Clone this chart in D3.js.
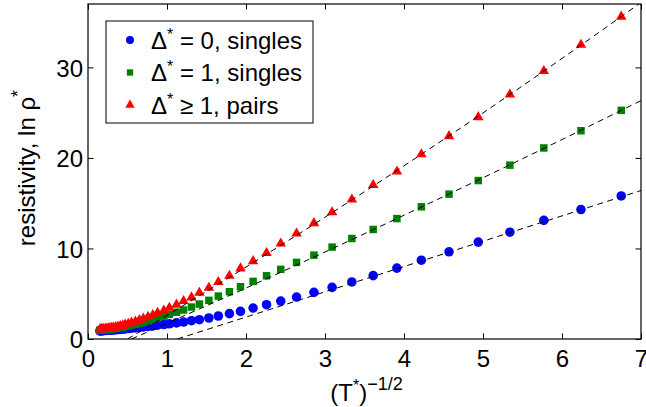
<!DOCTYPE html>
<html>
<head>
<meta charset="utf-8">
<script src="https://cdn.jsdelivr.net/npm/d3@7"></script>
<style>
  html, body { margin: 0; padding: 0; background: #fff; }
  svg { display: block; font-family: "Liberation Sans", Arial, sans-serif; }
</style>
</head>
<body>
<svg id="chart" width="646" height="407"></svg>
<script>
// (T*)^-1/2 for each temperature
const invSqrtT = [6.75, 6.24, 5.77, 5.34, 4.94, 4.57, 4.22, 3.91, 3.61, 3.34, 3.09, 2.86, 2.64, 2.44,
  2.26, 2.09, 1.93, 1.79, 1.65, 1.53, 1.41, 1.31, 1.21, 1.12, 1.03, 0.96, 0.88, 0.82, 0.76, 0.70,
  0.65, 0.60, 0.55, 0.51, 0.47, 0.44, 0.41, 0.38, 0.35, 0.32, 0.30, 0.28, 0.26, 0.24, 0.22, 0.20,
  0.19, 0.17, 0.16, 0.15];

// ln rho* : Δ* = 0, singles
const singles0 = [15.8, 14.3, 13.1, 11.8, 10.7, 9.63, 8.7, 7.83, 7.0, 6.3, 5.7, 5.15, 4.63, 4.19,
  3.79, 3.42, 3.05, 2.8, 2.54, 2.32, 2.13, 2.02, 1.87, 1.78, 1.68, 1.6, 1.52, 1.45, 1.39, 1.33,
  1.28, 1.23, 1.19, 1.15, 1.12, 1.09, 1.06, 1.04, 1.02, 1.0, 0.98, 0.97, 0.96, 0.95, 0.94, 0.93,
  0.92, 0.91, 0.9, 0.9];

// ln rho* : Δ* = 1, singles
const singles1 = [25.25, 23.0, 21.1, 19.2, 17.5, 16.0, 14.6, 13.3, 12.1, 11.1, 10.15, 9.26, 8.46, 7.69,
  6.98, 6.36, 5.77, 5.22, 4.74, 4.27, 3.86, 3.53, 3.2, 2.95, 2.72, 2.52, 2.33, 2.16, 2.0, 1.86,
  1.74, 1.63, 1.53, 1.45, 1.38, 1.32, 1.27, 1.22, 1.18, 1.14, 1.11, 1.08, 1.06, 1.04, 1.02, 1.0,
  0.99, 0.98, 0.97, 0.96];

// ln rho* : Δ* >= 1, pairs
const pairs = [35.6, 32.5, 29.6, 27.0, 24.5, 22.4, 20.4, 18.5, 17.0, 15.4, 14.0, 12.8, 11.65, 10.55,
  9.5, 8.6, 7.8, 6.98, 6.29, 5.66, 5.1, 4.6, 4.19, 3.8, 3.45, 3.15, 2.9, 2.65, 2.45, 2.25,
  2.08, 1.93, 1.8, 1.68, 1.58, 1.49, 1.42, 1.36, 1.31, 1.27, 1.23, 1.2, 1.17, 1.15, 1.13, 1.11,
  1.1, 1.09, 1.08, 1.07];

// Fitted trend curves (dashed)
const fitSingles0X = [1.13, 4.0, 7.0];
const fitSingles0Y = [0.0, 8.0, 16.4];
const fitSingles1X = [0.55, 1, 2, 3, 4, 5, 6, 7];
const fitSingles1Y = [0.0, 1.73, 5.63, 9.61, 13.67, 17.81, 22.03, 26.33];
const fitPairsX = [0.5, 1, 2, 3, 4, 5, 6, 7];
const fitPairsY = [0.0, 2.61, 7.95, 13.45, 19.13, 24.97, 30.99, 37.17];

const xTicks = [0, 1, 2, 3, 4, 5, 6, 7];
const yTicks = [0, 10, 20, 30];
const legendLabels = ["= 0, singles", "= 1, singles", "\u2265 1, pairs"];

const FS = 24;
const svg = d3.select("#chart");
const m = { left: 88, right: 641, top: 4, bottom: 339 };
const x = d3.scaleLinear().domain([0, 7]).range([m.left, m.right]);
const y = d3.scaleLinear().domain([0, 37]).range([m.bottom, m.top]);

svg.append("defs").append("clipPath").attr("id", "plotclip")
  .append("rect").attr("x", m.left).attr("y", m.top)
  .attr("width", m.right - m.left).attr("height", m.bottom - m.top);

const series = [
  { vals: singles0, color: "#0000ff", sym: d3.symbolCircle, size: 72, legSize: 50,
    fx: fitSingles0X, fy: fitSingles0Y },
  { vals: singles1, color: "#008000", sym: d3.symbolSquare, size: 56, legSize: 40,
    fx: fitSingles1X, fy: fitSingles1Y },
  { vals: pairs, color: "#ff0000", sym: d3.symbolTriangle, size: 48, legSize: 38,
    fx: fitPairsX, fy: fitPairsY }
];

const plot = svg.append("g").attr("clip-path", "url(#plotclip)");

// markers
series.forEach(s => {
  plot.append("g").selectAll("path")
    .data(invSqrtT.map((v, i) => [v, s.vals[i]]))
    .join("path")
    .attr("d", d3.symbol().type(s.sym).size(s.size))
    .attr("transform", d => `translate(${x(d[0])},${y(d[1])})`)
    .attr("fill", s.color);
});

// dashed fit curves
const line = d3.line().x(d => x(d[0])).y(d => y(d[1])).curve(d3.curveMonotoneX);
series.forEach(s => {
  plot.append("path")
    .attr("d", line(s.fx.map((v, i) => [v, s.fy[i]])))
    .attr("fill", "none").attr("stroke", "#000").attr("stroke-width", 1)
    .attr("stroke-dasharray", "6,4.5");
});

// axes with inward ticks on all four sides
const tickLen = 5.5;
const fmt = d3.format("d");
const axB = svg.append("g").attr("transform", `translate(0,${m.bottom})`)
  .call(d3.axisBottom(x).tickValues(xTicks).tickFormat(fmt).tickSizeInner(-tickLen).tickSizeOuter(0));
const axT = svg.append("g").attr("transform", `translate(0,${m.top})`)
  .call(d3.axisTop(x).tickValues(xTicks).tickSizeInner(-tickLen).tickSizeOuter(0).tickFormat(""));
const axL = svg.append("g").attr("transform", `translate(${m.left},0)`)
  .call(d3.axisLeft(y).tickValues(yTicks).tickFormat(fmt).tickSizeInner(-tickLen).tickSizeOuter(0));
const axR = svg.append("g").attr("transform", `translate(${m.right},0)`)
  .call(d3.axisRight(y).tickValues(yTicks).tickSizeInner(-tickLen).tickSizeOuter(0).tickFormat(""));
[axB, axT, axL, axR].forEach(a => {
  a.select(".domain").remove();
  a.selectAll("line").attr("stroke", "#000");
  a.selectAll("text").attr("fill", "#000").attr("font-size", FS)
    .attr("font-family", "Liberation Sans, Arial, sans-serif");
});
axL.selectAll("text").attr("dy", "0.36em").attr("x", -5);
axB.selectAll("text").attr("dy", "0.71em").attr("y", 11);

svg.append("rect").attr("x", m.left).attr("y", m.top)
  .attr("width", m.right - m.left).attr("height", m.bottom - m.top)
  .attr("fill", "none").attr("stroke", "#000").attr("stroke-width", 1.2);

// axis titles
const xl = svg.append("text").attr("x", (m.left + m.right) / 2 + 2).attr("y", 401)
  .attr("text-anchor", "middle").attr("font-size", FS);
xl.append("tspan").text("(T");
xl.append("tspan").attr("font-size", 16).attr("dy", -10).text("*");
xl.append("tspan").attr("dy", 10).text(")");
xl.append("tspan").attr("font-size", 18).attr("dy", -11).text("\u22121/2");

const yl = svg.append("text")
  .attr("transform", `translate(35,168) rotate(-90)`)
  .attr("text-anchor", "middle").attr("font-size", FS);
yl.append("tspan").text("resistivity, ln \u03c1");
yl.append("tspan").attr("font-size", 18).attr("dy", -11).text("*");

// legend
const legend = svg.append("g");
legend.append("rect").attr("x", 106).attr("y", 21).attr("width", 207).attr("height", 102)
  .attr("fill", "#fff").attr("stroke", "#000").attr("stroke-width", 1);
series.forEach((s, i) => {
  const cy = 40 + i * 32.5;
  legend.append("path").attr("d", d3.symbol().type(s.sym).size(s.legSize))
    .attr("transform", `translate(130,${cy})`).attr("fill", s.color);
  const t = legend.append("text").attr("x", 151).attr("y", cy + 8.5).attr("font-size", FS);
  t.append("tspan").text("\u0394");
  t.append("tspan").attr("font-size", 16).attr("dy", -9).text("*");
  t.append("tspan").attr("dy", 9).text(" " + legendLabels[i]);
});
</script>
</body>
</html>
